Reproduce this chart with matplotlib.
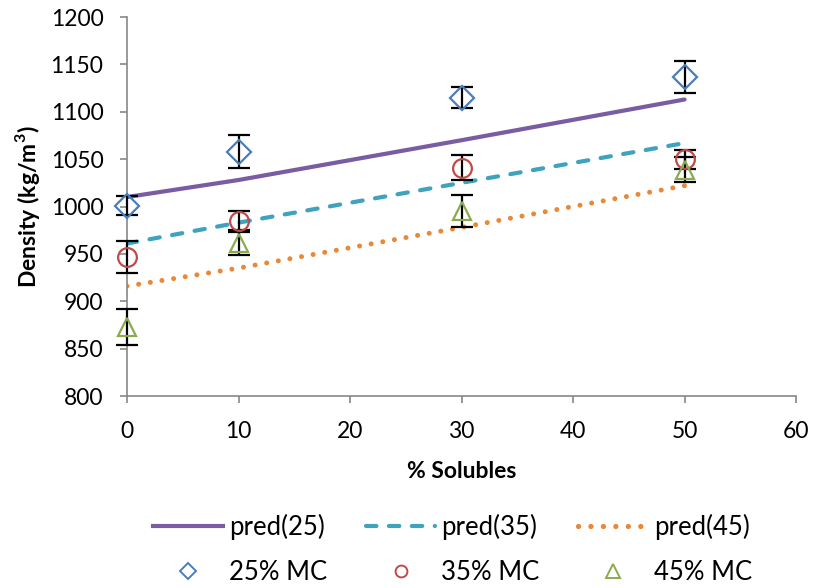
import matplotlib
matplotlib.use("Agg")
import matplotlib.pyplot as plt
from matplotlib.lines import Line2D

plt.rcParams['font.family'] = ['Lato', 'DejaVu Sans']

solubles = [0, 10, 30, 50]

pred25 = [1010, 1028, 1070, 1113]
pred35 = [961, 983, 1025, 1067]
pred45 = [916, 935, 978, 1022]

mc25 = [1001, 1058, 1115, 1137]
mc25_err = [10, 17, 11, 17]
mc35 = [947, 985, 1041, 1050]
mc35_err = [17, 10, 13, 10]
mc45 = [873, 961, 995, 1039]
mc45_err = [19, 12, 17, 13]

fig = plt.figure(figsize=(8.14, 5.88), dpi=100)
ax = fig.add_axes([0.156, 0.3265, 0.822, 0.6445])

purple = '#7A5CA3'
teal = '#3FA3BE'
orange = '#E8893A'
dash35 = (0, (2.5, 3.0))
dot45 = (0, (0.01, 2.35))

ax.plot(solubles, pred25, color=purple, lw=3, solid_capstyle='round', label='pred(25)')
ax.plot(solubles, pred35, color=teal, lw=3, linestyle=dash35,
        dash_capstyle='round', label='pred(35)')
ax.plot(solubles, pred45, color=orange, lw=3.6, linestyle=dot45,
        dash_capstyle='round', label='pred(45)')

eb = dict(ecolor='black', elinewidth=1.6, capsize=8, capthick=1.6, zorder=3,
          mfc='none', mew=1.6, linestyle='none')
series = [
    (mc25, mc25_err, 'D', '#4A7EBB', 12.5, '25% MC'),
    (mc35, mc35_err, 'o', '#BE4B48', 13.5, '35% MC'),
    (mc45, mc45_err, '^', '#8BAA4F', 13.5, '45% MC'),
]
for vals, err, m, c, size, lab in series:
    cont = ax.errorbar(solubles, vals, yerr=err, marker=m, mec=c, ms=size, label=lab, **eb)
    for art in [cont.lines[0], *cont.lines[1], *cont.lines[2]]:
        art.set_clip_on(False)

ax.set_xlim(0, 60)
ax.set_ylim(800, 1200)
ax.set_xticks(range(0, 61, 10))
ax.set_yticks(range(800, 1201, 50))
for s in ['top', 'right']:
    ax.spines[s].set_visible(False)
for s in ['left', 'bottom']:
    ax.spines[s].set_color('#888888')
    ax.spines[s].set_linewidth(1.2)
ax.tick_params(axis='both', colors='#888888', labelcolor='black', labelsize=16.5,
               length=5, width=1.2, direction='out')
ax.tick_params(axis='x', pad=13)
ax.tick_params(axis='y', pad=12)
ax.set_xlabel('% Solubles', fontsize=16.5, fontweight='bold', labelpad=14)
ax.set_ylabel('Density (kg/m$^\\mathregular{3}$)', fontsize=16.5, fontweight='bold', labelpad=6)

h_line = [Line2D([], [], color=purple, lw=3),
          Line2D([], [], color=teal, lw=3, linestyle=dash35, dash_capstyle='round'),
          Line2D([], [], color=orange, lw=3.8, linestyle=dot45, dash_capstyle='round')]
h_mark = [Line2D([], [], marker='D', mec='#4A7EBB', mfc='none', ms=8, mew=1.4, ls='none'),
          Line2D([], [], marker='o', mec='#BE4B48', mfc='none', ms=8.5, mew=1.4, ls='none'),
          Line2D([], [], marker='^', mec='#8BAA4F', mfc='none', ms=9.5, mew=1.4, ls='none')]
labels_line = ['pred(25)', 'pred(35)', 'pred(45)']
labels_mark = ['25% MC', '35% MC', '45% MC']
handles, labels = [], []
for i in range(3):
    handles += [h_line[i], h_mark[i]]
    labels += [labels_line[i], labels_mark[i]]
fig.legend(handles, labels, ncol=3, loc='center', bbox_to_anchor=(0.556, 0.066),
           frameon=False, fontsize=18.5, handlelength=2.72, handletextpad=0.23,
           columnspacing=1.5, labelspacing=0.76, borderpad=0.2)

fig.savefig('out.png', dpi=100)
